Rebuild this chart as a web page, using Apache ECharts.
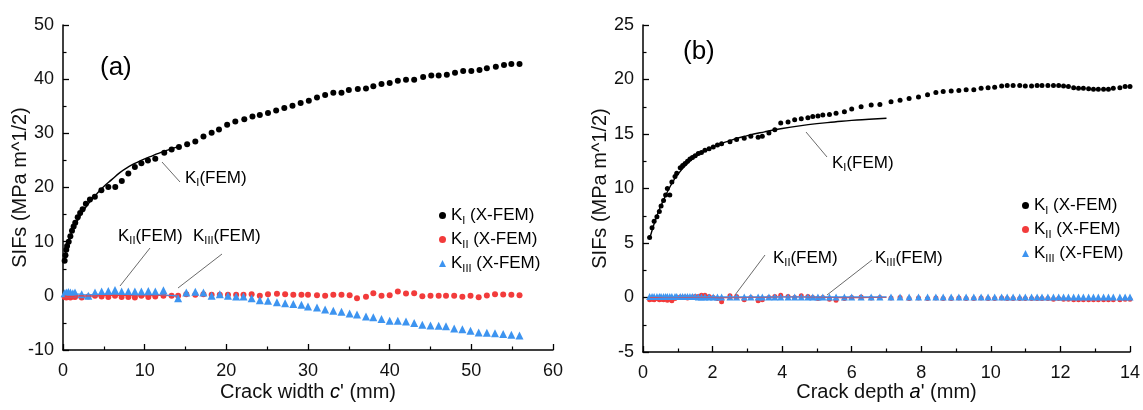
<!DOCTYPE html>
<html>
<head>
<meta charset="utf-8">
<script src="https://cdn.jsdelivr.net/npm/echarts@6.0.0/dist/echarts.min.js"></script>
<style>
  html, body { margin: 0; padding: 0; background: #fff; }
  #chart { width: 1143px; height: 410px; }
</style>
</head>
<body>
<div id="chart"></div>
<script>
// ---- panel (a): crack width c' ----
const aKIx = [0.2,0.3,0.4,0.5,0.7,0.9,1.1,1.3,1.5,1.8,2.1,2.4,2.8,3.3,3.9,4.7,5.55,6.4,7.2,8.0,8.8,9.6,10.4,11.3,12.4,13.3,14.2,15.2,16.2,17.2,18.2,19.1,20.1,21.1,22.2,23.2,24.1,25.1,26.1,27.1,28.1,29.1,30.1,31.1,32.1,33.1,34.1,35.0,36.1,37.1,38.0,39.0,40.0,41.0,42.0,43.0,44.1,45.1,46.0,47.0,48.0,49.0,50.0,51.0,51.9,53.0,54.0,54.9,55.9];
const aKIy = [6.5,7.5,8.5,9.2,10.0,11.0,12.0,12.8,13.5,14.5,15.3,16.0,17.0,17.8,18.3,19.5,20.1,20.1,21.2,22.6,23.8,24.5,25.0,25.3,26.4,27.0,27.5,28.0,28.5,29.4,30.1,30.7,31.6,32.2,32.6,33.1,33.4,33.75,34.2,34.7,35.1,35.6,36.0,36.6,37.1,37.5,37.5,38.0,38.2,38.3,38.7,39.1,39.3,39.7,39.9,39.9,40.4,40.7,40.7,40.8,41.2,41.5,41.5,41.7,42.0,42.3,42.6,42.8,42.8];

const aKIIx = [0.2,0.4,0.65,0.9,1.2,1.47,2.29,3.1,3.92,4.73,5.55,6.37,7.18,8.0,8.8,9.6,10.45,11.3,12.3,13.3,14.1,15.1,16.2,17.2,18.2,19.2,20.2,21.2,22.1,23.1,24.1,25.1,26.2,27.2,28.2,29.2,30.0,31.1,32.1,33.1,34.1,35.1,36.0,37.1,38.0,39.0,40.0,41.0,42.0,43.0,44.0,45.0,46.0,46.9,47.9,48.9,49.9,50.9,51.9,52.9,53.9,54.9,55.9];
const aKIIy = [-0.2,-0.3,-0.2,-0.3,-0.1,-0.2,-0.3,-0.1,0.0,-0.1,-0.2,0.0,-0.2,-0.2,-0.3,0.0,-0.2,-0.1,0.0,0.0,0.0,0.3,0.2,0.3,0.2,0.2,0.2,0.2,0.2,0.3,0.0,0.3,0.4,0.3,0.2,0.19,0.19,0.12,0.0,0.19,0.19,0.12,-0.43,-0.18,0.49,0.0,0.12,0.8,0.43,0.49,-0.06,0.0,0.0,0.0,0.0,-0.18,0.0,-0.25,0.06,0.31,0.25,0.19,0.12];

const aKIIIx = [0.2,0.4,0.65,0.9,1.2,1.47,2.29,3.1,3.92,4.73,5.55,6.37,7.18,8.0,8.8,9.6,10.45,11.3,12.3,14.1,15.1,16.2,17.2,18.2,19.2,20.2,21.2,22.1,23.1,24.1,25.1,26.2,27.2,28.2,29.2,30.0,31.1,32.1,33.1,34.1,35.1,36.0,37.1,38.0,39.0,40.0,41.0,42.0,43.0,44.0,45.0,46.0,46.9,47.9,48.9,49.9,50.9,51.9,52.9,53.9,54.9,55.9];
const aKIIIy = [0.5,0.6,0.7,0.6,0.5,0.6,0.3,0.0,0.6,0.8,0.9,1.1,0.8,0.8,0.8,0.8,0.9,0.8,1.05,-0.45,0.6,0.75,0.6,0.0,0.3,0.0,-0.1,-0.1,-0.45,-0.8,-0.9,-1.2,-1.35,-1.5,-1.65,-1.95,-2.14,-2.5,-2.76,-2.94,-3.25,-3.43,-3.8,-3.95,-4.29,-4.6,-4.6,-4.72,-5.03,-5.33,-5.46,-5.52,-5.6,-6.01,-6.19,-6.44,-6.75,-6.81,-6.93,-7.05,-7.18,-7.3];

const aFemX = [0.2,0.5,1,2,3,4,5,6,7,8,9,10,11,12,13,14];
const aFemKI = [6.5,9.5,11.5,14.5,16.8,18.6,20.2,21.5,22.8,23.8,24.6,25.3,25.9,26.5,27.0,27.5];
const aFemKII = [0,-0.1,-0.1,0,0,0,0.05,0.1,0.1,0.05,0,0,0.05,0.1,0.05,0];
const aFemKIII = [0.3,0.35,0.35,0.3,0.2,0.25,0.3,0.3,0.3,0.25,0.2,0.2,0.2,0.2,0.1,0];

// ---- panel (b): crack depth a' ----
const bX = [0.19,0.26,0.32,0.40,0.47,0.52,0.59,0.65,0.70,0.77,0.83,0.92,0.97,1.07,1.14,1.21,1.28,1.35,1.42,1.5,1.59,1.68,1.78,1.9,2.02,2.14,2.26,2.5,2.69,2.91,3.1,3.31,3.43,3.62,3.79,3.96,4.17,4.36,4.55,4.74,4.88,5.03,5.17,5.36,5.55,5.79,6.0,6.27,6.56,6.81,7.13,7.39,7.65,7.92,8.18,8.42,8.63,8.86,9.08,9.29,9.51,9.72,9.92,10.11,10.31,10.47,10.64,10.83,10.99,11.17,11.33,11.47,11.64,11.8,11.95,12.09,12.23,12.38,12.52,12.66,12.81,12.95,13.09,13.24,13.38,13.52,13.71,13.86,14.0];
const bKIy = [5.5,6.4,7.0,7.4,7.9,8.4,8.9,9.4,10.0,9.4,10.6,11.1,11.4,11.9,12.1,12.3,12.5,12.7,12.85,13.0,13.2,13.3,13.5,13.65,13.8,14.0,14.1,14.3,14.5,14.6,14.8,14.7,14.8,15.1,15.4,16.0,16.1,16.3,16.4,16.5,16.6,16.65,16.75,16.8,16.9,17.05,17.3,17.5,17.65,17.7,17.95,18.1,18.25,18.4,18.6,18.8,18.9,18.95,19.0,19.05,19.05,19.2,19.25,19.3,19.4,19.45,19.45,19.45,19.4,19.4,19.45,19.45,19.45,19.45,19.45,19.4,19.35,19.25,19.2,19.2,19.15,19.1,19.1,19.1,19.1,19.2,19.25,19.35,19.35];
const bKIIy = [-0.2,-0.15,-0.2,-0.1,-0.2,-0.15,-0.2,-0.1,-0.25,-0.15,-0.3,-0.1,0.0,0.05,0.0,0.05,-0.05,0.0,0.05,0.1,0.1,0.2,0.2,0.1,0.0,-0.1,-0.4,0.15,0.1,-0.2,0.0,-0.3,-0.2,0.0,0.1,0.2,0.1,0.0,0.15,0.1,0.0,-0.1,0.0,-0.15,-0.25,-0.1,0.0,0.05,-0.05,0.0,-0.05,0.0,-0.1,-0.05,-0.1,-0.05,-0.1,-0.1,-0.05,-0.1,-0.1,-0.05,-0.1,-0.1,-0.05,-0.1,-0.1,-0.1,-0.1,-0.1,-0.1,-0.1,-0.1,-0.15,-0.1,-0.15,-0.15,-0.2,-0.2,-0.2,-0.2,-0.2,-0.2,-0.2,-0.2,-0.2,-0.2,-0.15,-0.15];
const bKIIIy = [0.1,0.1,0.1,0.1,0.1,0.1,0.1,0.1,0.1,0.1,0.1,0.1,0.1,0.1,0.1,0.1,0.1,0.1,0.1,0.1,0.05,0.05,0.05,0.05,0.05,0.05,0.05,0.05,0.05,0.05,0.05,0.05,0.05,0.05,0.05,0.05,0.05,0.05,0.05,0.05,0.05,0.05,0.05,0.05,0.05,0.05,0.05,0.05,0.05,0.05,0.05,0.05,0.05,0.05,0.05,0.05,0.05,0.05,0.05,0.05,0.05,0.05,0.05,0.05,0.05,0.05,0.05,0.05,0.05,0.05,0.05,0.05,0.05,0.05,0.05,0.05,0.05,0.05,0.05,0.05,0.05,0.05,0.05,0.05,0.05,0.05,0.05,0.05,0.05];

const bFemX = [0.2,0.4,0.6,0.8,1.0,1.25,1.5,2,2.5,3,3.5,4,4.5,5,5.5,6,6.5,7];
const bFemKI = [5.5,7.5,9.0,10.3,11.3,12.2,12.9,13.8,14.4,14.85,15.2,15.5,15.75,15.95,16.1,16.25,16.35,16.45];
const bFemKII = [0,0.02,0.05,0.05,0.05,0.03,0.02,0.0,-0.02,0,0.02,0.05,0.05,0.03,0,-0.02,0,0.02];
const bFemKIII = [0.08,0.08,0.08,0.08,0.08,0.08,0.06,0.06,0.06,0.06,0.06,0.06,0.05,0.05,0.05,0.05,0.05,0.05];

const legendNames = ["KI (X-FEM)", "KII (X-FEM)", "KIII (X-FEM)"];
const legendSubs = ["I", "II", "III"];

const FONT = "Liberation Sans, Arial, sans-serif";
const RED = "#f23b3b";
const BLUE = "#3d94f0";

function zip(xs, ys) {
  return xs.map((x, i) => [x, ys[i]]);
}

const subRich = {
  k: { fontSize: 17, fontFamily: FONT, color: "#000" },
  s: { fontSize: 11, fontFamily: FONT, color: "#000", padding: [10, 0, 0, 0] },
  i: { fontSize: 20, fontFamily: FONT, fontStyle: "italic", color: "#000" },
};

function kLabel(sub, rest) {
  return "{k|K}{s|" + sub + "}{k|" + rest + "}";
}

function axisStyle(labelMargin) {
  return {
    axisLine: { onZero: false, lineStyle: { color: "#000", width: 1.5 } },
    axisTick: { inside: true, length: 6, lineStyle: { color: "#000", width: 1.3 } },
    minorTick: { show: true, splitNumber: 2, length: 3.5, lineStyle: { color: "#000", width: 1.2 } },
    splitLine: { show: false },
    axisLabel: { fontSize: 18, color: "#111", fontFamily: FONT, margin: labelMargin },
    nameLocation: "middle",
    nameMoveOverlap: false,
    nameTextStyle: { fontSize: 20, color: "#111", fontFamily: FONT, rich: subRich },
  };
}

function legendFor(left, top) {
  return {
    orient: "vertical",
    left: left,
    top: top,
    itemWidth: 7,
    itemHeight: 7,
    itemGap: 5,
    data: legendNames,
    selectedMode: false,
    formatter: (name) => kLabel(legendSubs[legendNames.indexOf(name)], " (X-FEM)"),
    textStyle: { fontSize: 17, fontFamily: FONT, rich: subRich },
  };
}

function scatter(name, xi, data, color, symbol, size) {
  return {
    name: name,
    type: "scatter",
    xAxisIndex: xi,
    yAxisIndex: xi,
    data: data,
    symbol: symbol,
    symbolSize: size,
    itemStyle: { color: color, opacity: 1 },
    silent: true,
  };
}

function femLine(xi, data, color, width) {
  return {
    type: "line",
    xAxisIndex: xi,
    yAxisIndex: xi,
    data: data,
    showSymbol: false,
    smooth: true,
    lineStyle: { color: color, width: width },
    silent: true,
    z: 3,
  };
}

function annot(x, y, sub) {
  return {
    type: "text",
    x: x,
    y: y,
    style: { text: kLabel(sub, "(FEM)"), rich: subRich, fill: "#000", verticalAlign: "middle" },
  };
}

function leader(x1, y1, x2, y2) {
  return {
    type: "line",
    shape: { x1: x1, y1: y1, x2: x2, y2: y2 },
    style: { stroke: "#444", lineWidth: 0.8 },
  };
}

const myChart = echarts.init(document.getElementById("chart"));
myChart.setOption({
  animation: false,
  backgroundColor: "#fff",
  grid: [
    { left: 63, top: 25, width: 490, height: 325 },
    { left: 643, top: 25, width: 489, height: 327 },
  ],
  xAxis: [
    Object.assign(axisStyle(12), {
      gridIndex: 0, type: "value", min: 0, max: 60, interval: 10,
      name: "Crack width {i|c}' (mm)", nameGap: 32,
    }),
    Object.assign(axisStyle(12), {
      gridIndex: 1, type: "value", min: 0, max: 14, interval: 2,
      name: "Crack depth {i|a}' (mm)", nameGap: 30,
    }),
  ],
  yAxis: [
    Object.assign(axisStyle(9), {
      gridIndex: 0, type: "value", min: -10, max: 50, interval: 10,
      name: "SIFs (MPa m^1/2)", nameGap: 33,
    }),
    Object.assign(axisStyle(9), {
      gridIndex: 1, type: "value", min: -5, max: 25, interval: 5,
      name: "SIFs (MPa m^1/2)", nameGap: 33,
    }),
  ],
  legend: [legendFor(434, 202), legendFor(1017, 192)],
  series: [
    femLine(0, zip(aFemX, aFemKII), RED, 1.2),
    femLine(0, zip(aFemX, aFemKIII), BLUE, 1.2),
    scatter(legendNames[1], 0, zip(aKIIx, aKIIy), RED, "circle", 6),
    scatter(legendNames[2], 0, zip(aKIIIx, aKIIIy), BLUE, "triangle", 8),
    scatter(legendNames[0], 0, zip(aKIx, aKIy), "#000", "circle", 6),
    femLine(0, zip(aFemX, aFemKI), "#000", 1.4),

    femLine(1, zip(bFemX, bFemKII), RED, 1.2),
    scatter(legendNames[1], 1, zip(bX, bKIIy), RED, "circle", 5),
    scatter(legendNames[2], 1, zip(bX, bKIIIy), BLUE, "triangle", 7),
    femLine(1, zip(bFemX, bFemKIII), BLUE, 1.2),
    scatter(legendNames[0], 1, zip(bX, bKIy), "#000", "circle", 5),
    femLine(1, zip(bFemX, bFemKI), "#000", 1.4),
  ],
  graphic: [
    { type: "text", x: 100, y: 68, style: { text: "(a)", font: "26px " + FONT, fill: "#000", verticalAlign: "middle" } },
    { type: "text", x: 683, y: 52, style: { text: "(b)", font: "26px " + FONT, fill: "#000", verticalAlign: "middle" } },
    annot(185, 178, "I"),
    leader(162, 162, 180, 182),
    annot(118, 236, "II"),
    leader(150, 248, 120, 286),
    annot(193, 236, "III"),
    leader(222, 254, 178, 288),
    annot(832, 163, "I"),
    leader(806, 132, 827, 157),
    annot(773, 258, "II"),
    leader(765, 255, 735, 295),
    annot(875, 258, "III"),
    leader(872, 260, 827, 295),
  ],
});
</script>
</body>
</html>
